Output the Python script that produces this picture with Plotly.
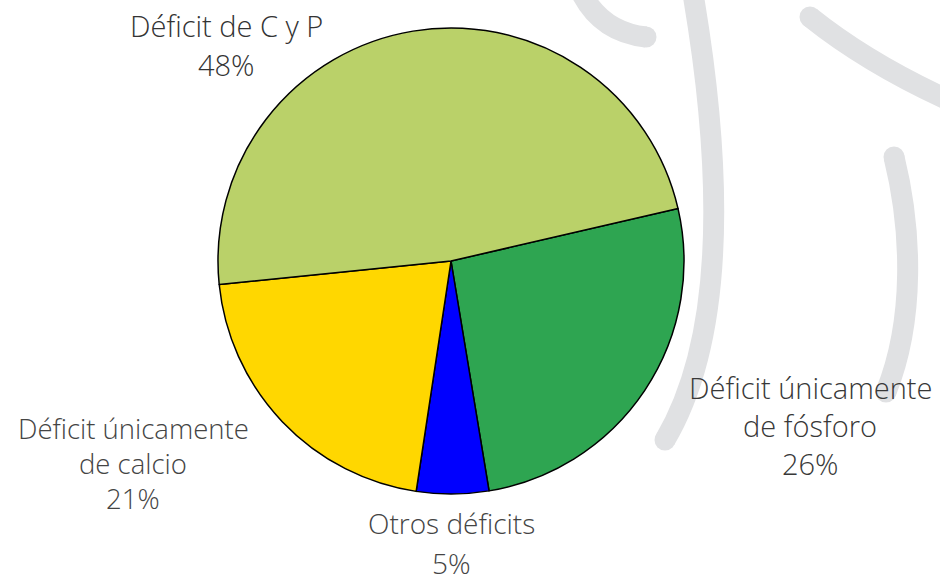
import plotly.graph_objects as go

# ---- data ----
categories = ["Déficit únicamente de fósforo", "Otros déficits",
              "Déficit únicamente de calcio", "Déficit de C y P"]
label_lines = ["Déficit únicamente<br>de fósforo", "Otros déficits",
               "Déficit únicamente<br>de calcio", "Déficit de C y P"]
values = [26, 5, 21, 48]
colors = ["#2EA551", "#0000FF", "#FFD700", "#BAD169"]

W, H = 940, 574


def px(x):
    return x / W


def py(y):
    return 1 - y / H


fig = go.Figure()
fig.add_trace(go.Pie(
    labels=categories,
    values=values,
    sort=False,
    direction="clockwise",
    rotation=77,
    textinfo="none",
    hoverinfo="label+percent",
    marker=dict(colors=colors, line=dict(color="#000000", width=1.5)),
    domain=dict(x=[px(218), px(684)], y=[py(494), py(28)]),
    showlegend=False,
))

# label layout: center x, first-line center y, line spacing, colour, size
label_layout = [
    (810, 387, 38, "#383838", 29),
    (451, 523, 40, "#444444", 28),
    (133, 428, 35, "#444444", 27.5),
    (226, 26, 39, "#333333", 29),
]
total = sum(values)
for lab, v, (x, y0, dy, c, s) in zip(label_lines, values, label_layout):
    lines = lab.split("<br>") + [f"{round(100 * v / total)}%"]
    for i, line in enumerate(lines):
        fig.add_annotation(
            x=px(x), y=py(y0 + i * dy), xref="paper", yref="paper",
            text=line, showarrow=False, align="center",
            xanchor="center", yanchor="middle",
            font=dict(family="Open Sans", size=s, color=c, weight=300),
        )

# decorative background strokes
gray = "#E0E1E3"
sw = 21


def path(cmds):
    out = []
    for c in cmds:
        if isinstance(c, str):
            out.append(c)
        else:
            out.append(f"{px(c[0]):.5f},{py(c[1]):.5f}")
    return " ".join(out)


strokes = [
    ["M", (580, -10), "Q", (600, 32), (646, 37)],
    ["M", (692, -12), "C", (720, 150), (730, 330), (665, 440)],
    ["M", (810, 17), "Q", (870, 65), (955, 103)],
    ["M", (894, 157), "C", (912, 230), (915, 320), (886, 392)],
]
caps = [(646, 37), (665, 440), (810, 17), (894, 157), (886, 392)]
for s in strokes:
    fig.add_shape(type="path", path=path(s), xref="paper", yref="paper",
                  line=dict(color=gray, width=sw), layer="below")
r = sw / 2
for (cx, cy) in caps:
    fig.add_shape(type="circle", xref="paper", yref="paper",
                  x0=px(cx - r), x1=px(cx + r), y0=py(cy + r), y1=py(cy - r),
                  fillcolor=gray, line=dict(width=0), layer="below")

fig.update_layout(
    width=W, height=H,
    margin=dict(l=0, r=0, t=0, b=0),
    paper_bgcolor="white", plot_bgcolor="white",
)

fig.write_html("out.html",
               config={"displayModeBar": False},
               post_script="document.body.style.margin='0';"
                           "document.body.style.overflow='hidden';")
